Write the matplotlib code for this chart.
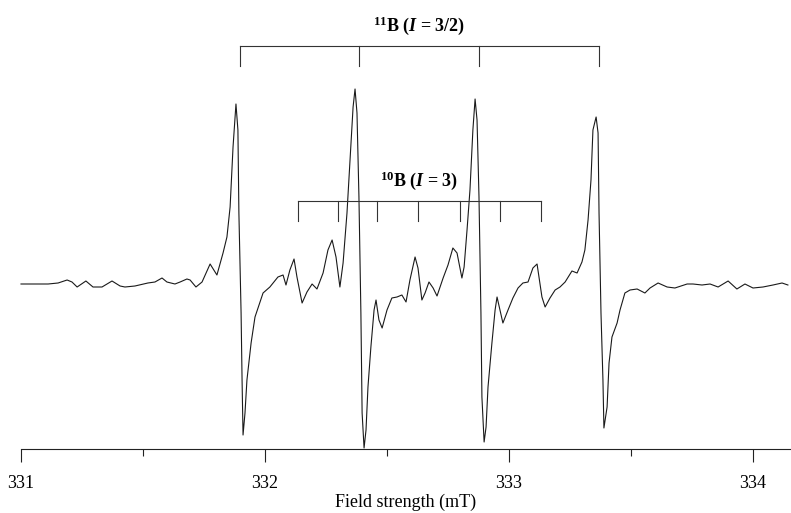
import numpy as np
import matplotlib
matplotlib.use("Agg")
import matplotlib.pyplot as plt

# EPR spectrum: field (mT) and signal (arb. units, baseline = 0)
field = [331.000, 331.057, 331.111, 331.152, 331.189, 331.209, 331.230, 331.266,
         331.295, 331.332, 331.373, 331.406, 331.426, 331.467, 331.520, 331.549,
         331.578, 331.598, 331.631, 331.652, 331.680, 331.693, 331.717, 331.742,
         331.775, 331.803, 331.828, 331.844, 331.857, 331.869, 331.881, 331.889,
         331.893, 331.902, 331.906, 331.910, 331.918, 331.926, 331.943, 331.959,
         331.992, 332.020, 332.053, 332.074, 332.086, 332.102, 332.119, 332.131,
         332.152, 332.172, 332.193, 332.213, 332.238, 332.258, 332.275, 332.291,
         332.307, 332.320, 332.336, 332.348, 332.361, 332.369, 332.377, 332.385,
         332.393, 332.398, 332.406, 332.414, 332.422, 332.434, 332.447, 332.455,
         332.467, 332.480, 332.500, 332.520, 332.541, 332.561, 332.578, 332.594,
         332.615, 332.627, 332.643, 332.656, 332.672, 332.689, 332.705, 332.730,
         332.750, 332.770, 332.787, 332.807, 332.816, 332.828, 332.840, 332.852,
         332.861, 332.869, 332.877, 332.885, 332.889, 332.898, 332.906, 332.914,
         332.930, 332.943, 332.951, 332.963, 332.975, 332.996, 333.016, 333.037,
         333.057, 333.078, 333.098, 333.115, 333.123, 333.135, 333.148, 333.168,
         333.189, 333.209, 333.230, 333.258, 333.279, 333.299, 333.311, 333.324,
         333.336, 333.344, 333.357, 333.365, 333.369, 333.377, 333.385, 333.389,
         333.402, 333.410, 333.422, 333.443, 333.455, 333.475, 333.496, 333.525,
         333.557, 333.578, 333.611, 333.648, 333.680, 333.730, 333.754, 333.791,
         333.824, 333.857, 333.898, 333.934, 333.967, 334.000, 334.041, 334.082,
         334.119, 334.143]
signal = [-1, -1, -1, 0, 3, 1, -4, 2,
          -4, -4, 2, -3, -4, -3, 0, 1,
          5, 1, -1, 1, 4, 3, -4, 1,
          19, 8, 30, 46, 76, 136, 179, 153,
          70, -30, -97, -152, -130, -97, -60, -34,
          -10, -4, 6, 8, -2, 13, 24, 6,
          -20, -9, -1, -6, 10, 33, 43, 26,
          -4, 20, 70, 120, 176, 194, 170, 86,
          -30, -130, -165, -147, -104, -64, -27, -17,
          -37, -45, -27, -15, -14, -12, -19, 3,
          26, 15, -17, -10, 1, -5, -13, 5,
          18, 35, 30, 5, 16, 53, 93, 153,
          184, 163, 86, -30, -114, -159, -144, -104,
          -60, -27, -14, -27, -40, -27, -15, -5,
          0, 1, 15, 19, 6, -14, -24, -15,
          -7, -4, 1, 12, 10, 21, 33, 63,
          103, 153, 166, 150, 70, -30, -97, -145,
          -124, -80, -54, -40, -27, -10, -7, -6,
          -10, -5, 0, -4, -5, -1, -1, -2,
          -1, -4, 2, -6, -1, -5, -4, -2,
          0, -2]

# stick diagrams (line positions, mT)
b11_lines = [331.898, 332.385, 332.877, 333.369]
b10_lines = [332.135, 332.299, 332.459, 332.627, 332.799, 332.963, 333.131]
b11_label = r'$^{11}$B ($I$ = 3/2)'
b10_label = r'$^{10}$B ($I$ = 3)'

major_ticks = [331, 332, 333, 334]
minor_ticks = [331.5, 332.5, 333.5]

plt.rcParams['font.family'] = 'Liberation Serif'
plt.rcParams['mathtext.fontset'] = 'custom'
plt.rcParams['mathtext.rm'] = 'Liberation Serif:bold'
plt.rcParams['mathtext.it'] = 'Liberation Serif:italic:bold'
plt.rcParams['mathtext.bf'] = 'Liberation Serif:bold'

fig = plt.figure(figsize=(7.91, 5.13), dpi=100)
ax = fig.add_axes([21/791, 64/513, 770/791, 449/513])

ax.plot(field, signal, color='#1a1a1a', lw=0.8, clip_on=False,
        solid_joinstyle='round')


def stick(ax, pos, top, drop, label):
    ax.plot([pos[0], pos[-1]], [top, top], color='#333333', lw=0.8)
    for p in pos:
        ax.plot([p, p], [top, top - drop], color='#333333', lw=0.8)
    ax.annotate(label, xy=(np.mean([pos[0], pos[-1]]), top), xytext=(0, 11),
                textcoords='offset points', ha='center', va='baseline',
                fontsize=13, fontweight='bold')


stick(ax, b11_lines, 237, 20, b11_label)
stick(ax, b10_lines, 82, 20, b10_label)

ax.set_xlim(331, 331 + 770/244)
ax.set_ylim(-166, 283)
for s in ['left', 'right', 'top']:
    ax.spines[s].set_visible(False)
ax.spines['bottom'].set_linewidth(0.8)
ax.spines['bottom'].set_color('#222222')
ax.set_yticks([])
ax.set_xticks(major_ticks, labels=[str(t) for t in major_ticks])
ax.set_xticks(minor_ticks, minor=True)
ax.tick_params(axis='x', which='major', length=9, width=0.8, pad=10,
               labelsize=13, color='#222222')
ax.tick_params(axis='x', which='minor', length=5, width=0.8, color='#222222')
ax.set_xlabel('Field strength (mT)', fontsize=13, labelpad=1)

fig.savefig('out.png', dpi=100)
